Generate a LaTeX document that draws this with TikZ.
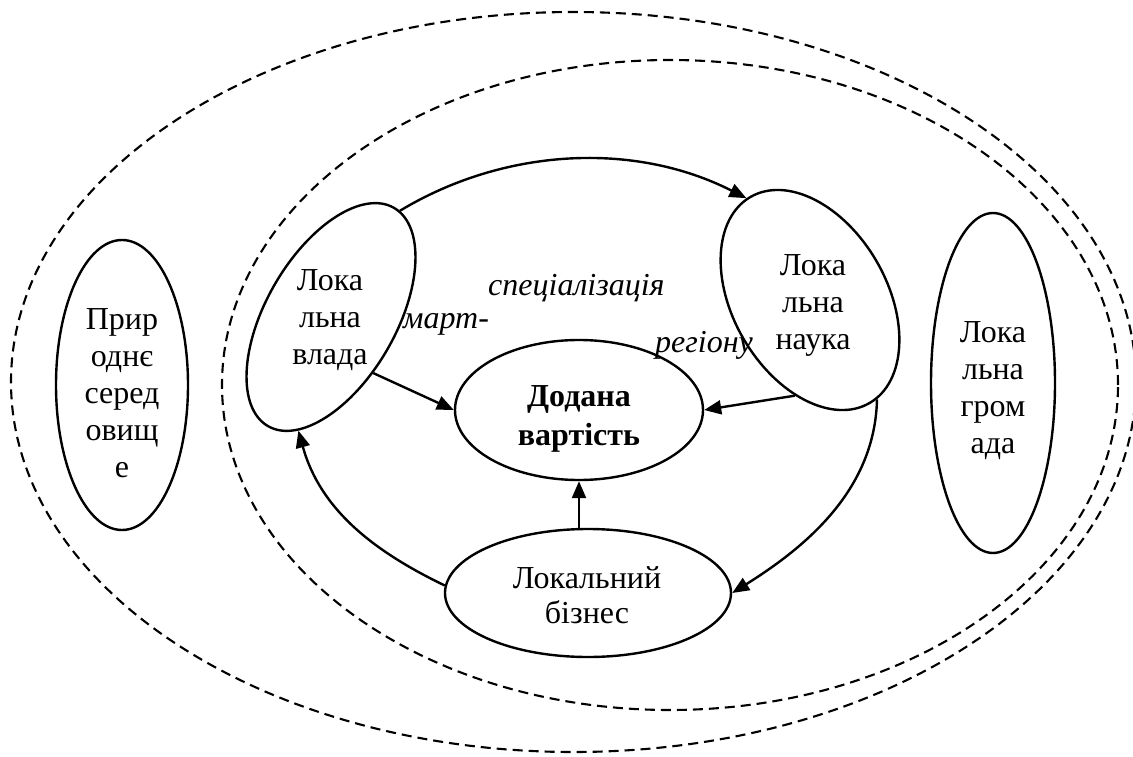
\documentclass[tikz,border=0pt]{standalone}
\usepackage{fontspec}
\setmainfont{Liberation Serif}
\usetikzlibrary{shapes.geometric,arrows.meta}
\begin{document}
\begin{tikzpicture}[x=1pt,y=-1pt,
  every node/.style={font=\fontsize{32}{37}\selectfont},
  ell/.style={draw, ellipse, line width=2.4pt, inner sep=0pt},
  txt/.style={inner sep=0pt, align=center},
  dsh/.style={dash pattern=on 10pt off 6pt, line width=2.1pt},
  arr/.style={line width=2.4pt, -{Triangle[length=17pt,width=14pt]}},
  lbl/.style={font=\fontsize{32}{37}\selectfont\itshape, inner sep=0pt, anchor=base west}
]
\useasboundingbox (0,0) rectangle (1133,757);
% dashed boundaries
\draw[dsh] (573.5,382) ellipse [x radius=562.5pt, y radius=370pt];
\draw[dsh] (670,385) ellipse [x radius=448pt, y radius=325pt];

% outer nodes
\node[ell, minimum width=132pt, minimum height=290pt] (prir) at (122,385) {};
\node[txt] (prirt) at (122,393) {Прир\\однє\\серед\\овищ\\е};
\node[ell, minimum width=124pt, minimum height=340pt] (grom) at (993,383) {};
\node[txt] (gromt) at (993,391) {Лока\\льна\\гром\\ада};

% inner nodes
\node[ell, minimum width=252pt, minimum height=130pt, rotate=60] (vlada) at (331,317) {};
\node[txt] (vladat) at (330,320) {Лока\\льна\\влада};
\node[ell, minimum width=238pt, minimum height=154pt, rotate=-60] (nauka) at (810,300) {};
\node[txt] (naukat) at (813,305) {Лока\\льна\\наука};
\node[ell, minimum width=248pt, minimum height=140pt] (dod) at (579,410) {};
\node[txt, font=\fontsize{32}{39}\selectfont\bfseries] (dodt) at (579,419) {Додана\\вартість};
\node[ell, minimum width=286pt, minimum height=128pt] (biz) at (588,593) {};
\node[txt, font=\fontsize{32}{35}\selectfont] (bizt) at (587,595) {Локальний\\бізнес};

% labels
\node[lbl] (l1) at (488,295) {спеціалізація};
\node[lbl] (l2) at (403,328) {март-};
\node[lbl] (l3) at (655,352) {регіону};

% connectors
\draw[arr] (vlada.-3) .. controls (504,148) and (634,141) .. (nauka.182);
\draw[arr] (nauka.4) .. controls (875,491) and (804,548) .. (biz.east);
\draw[arr] (biz.177) .. controls (373,551) and (320,509) .. (vlada.194);
\draw[arr] (vlada.247) -- (dod.west);
\draw[arr] (nauka.-39) -- (dod.east);
\draw[arr] (dod.south |- biz.north) -- (dod.south);
\end{tikzpicture}
\end{document}
